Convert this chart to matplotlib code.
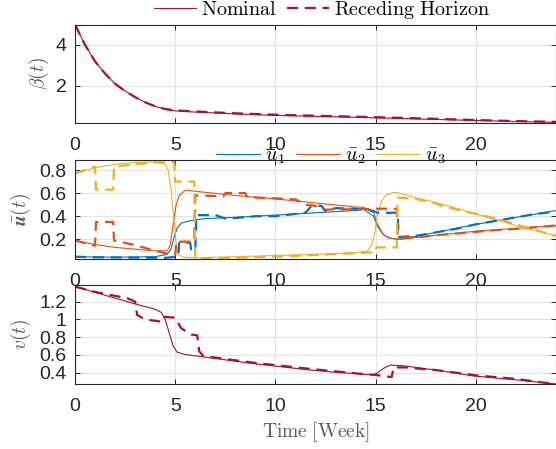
import matplotlib
matplotlib.use("Agg")
import matplotlib.pyplot as plt
from matplotlib.ticker import FormatStrFormatter

plt.rcParams['font.family'] = ['Liberation Sans', 'DejaVu Sans']
plt.rcParams['mathtext.fontset'] = 'cm'

# colours (MATLAB defaults)
red = '#A2142F'
c_u = ['#0072BD', '#D95319', '#EDB120']
axc = '#262626'
labc = '#595959'

# beta(t)
t_beta = [0, 0.5, 1, 1.5, 2, 2.5, 3, 3.5, 4, 4.5, 5, 6, 8, 10, 12, 15, 18, 20, 22, 24]
beta_nom = [5, 4.0, 3.2, 2.6, 2.1, 1.75, 1.45, 1.2, 1.0, 0.86, 0.78, 0.72, 0.63, 0.56, 0.51, 0.44, 0.36, 0.31, 0.26, 0.22]
beta_rh = [5, 4.0, 3.2, 2.6, 2.1, 1.75, 1.45, 1.2, 1.0, 0.87, 0.8, 0.75, 0.66, 0.59, 0.54, 0.47, 0.39, 0.33, 0.28, 0.24]

# nominal controls
t_u1 = [0, 2, 4, 4.6, 4.8, 4.95, 5.1, 5.3, 5.7, 6.5, 8, 10, 12, 14, 14.4, 14.9, 15.1, 15.4, 15.7, 16.2, 18, 20, 22, 24]
u1_nom = [0.05, 0.045, 0.05, 0.07, 0.12, 0.22, 0.3, 0.34, 0.36, 0.38, 0.39, 0.41, 0.43, 0.45, 0.46, 0.40, 0.31, 0.24, 0.21, 0.2, 0.26, 0.33, 0.39, 0.45]
t_u2 = [0, 1, 2, 3, 4, 4.6, 4.75, 4.9, 5.05, 5.2, 5.5, 8, 10, 12, 14, 14.4, 14.9, 15.1, 15.4, 15.7, 16.2, 18, 20, 22, 24]
u2_nom = [0.19, 0.155, 0.13, 0.115, 0.1, 0.1, 0.15, 0.33, 0.5, 0.58, 0.625, 0.58, 0.55, 0.515, 0.48, 0.477, 0.43, 0.33, 0.24, 0.21, 0.2, 0.235, 0.27, 0.295, 0.32]
t_u3 = [0, 1, 2, 3, 4, 4.5, 4.65, 4.8, 4.95, 5.05, 5.15, 5.4, 6, 8, 10, 12, 14, 14.6, 14.8, 14.95, 15.1, 15.3, 15.5, 15.9, 16.2, 17, 18, 20, 22, 24]
u3_nom = [0.77, 0.82, 0.85, 0.865, 0.87, 0.85, 0.8, 0.62, 0.35, 0.16, 0.07, 0.045, 0.04, 0.05, 0.06, 0.07, 0.085, 0.1, 0.15, 0.25, 0.42, 0.53, 0.58, 0.607, 0.6, 0.56, 0.52, 0.42, 0.32, 0.23]

# receding horizon controls
t_u1_rh = [0, 1, 4.5, 5.15, 5.2, 5.75, 5.8, 6.0, 6.05, 7, 7.5, 8, 9, 10, 11, 11.5, 11.8, 12.3, 12.5, 13, 14, 14.8, 15.1, 16.1, 16.15, 17, 18, 19, 20, 21, 22, 23, 24]
u1_rh = [0.05, 0.045, 0.04, 0.05, 0.17, 0.17, 0.1, 0.1, 0.41, 0.41, 0.38, 0.385, 0.4, 0.4, 0.42, 0.43, 0.49, 0.49, 0.445, 0.47, 0.465, 0.45, 0.43, 0.43, 0.22, 0.23, 0.26, 0.29, 0.33, 0.36, 0.39, 0.42, 0.44]
t_u2_rh = [0, 1.0, 1.05, 1.9, 1.95, 3, 4, 4.5, 5.0, 5.05, 5.95, 6.0, 7, 7.4, 7.5, 8.5, 8.6, 10, 11, 11.5, 12, 12.3, 13, 14, 15, 16.05, 16.1, 17, 18, 19, 20, 21, 22, 23, 24]
u2_rh = [0.19, 0.145, 0.35, 0.35, 0.19, 0.15, 0.1, 0.08, 0.06, 0.18, 0.18, 0.58, 0.575, 0.57, 0.6, 0.6, 0.565, 0.555, 0.545, 0.5, 0.49, 0.455, 0.46, 0.46, 0.465, 0.465, 0.22, 0.215, 0.235, 0.25, 0.265, 0.28, 0.29, 0.305, 0.32]
t_u3_rh = [0, 0.5, 1.0, 1.05, 1.9, 1.95, 3, 4, 4.95, 5.0, 5.95, 6.0, 8, 10, 12, 14, 15.0, 15.05, 16.05, 16.1, 17, 17.5, 18, 18.5, 20, 21, 22, 23, 24]
u3_rh = [0.77, 0.8, 0.83, 0.63, 0.63, 0.83, 0.85, 0.865, 0.87, 0.7, 0.7, 0.03, 0.04, 0.05, 0.065, 0.08, 0.09, 0.13, 0.13, 0.56, 0.55, 0.53, 0.51, 0.48, 0.42, 0.38, 0.33, 0.28, 0.23]

# v(t)
t_v = [0, 1, 2, 3, 4, 4.3, 4.5, 4.7, 4.9, 5.1, 5.5, 7, 9, 11.75, 13, 14.9, 15.1, 15.4, 15.75, 16.5, 18, 19.9, 22, 24]
v_nom = [1.37, 1.305, 1.24, 1.175, 1.115, 1.08, 1.0, 0.85, 0.7, 0.63, 0.605, 0.56, 0.5, 0.43, 0.405, 0.375, 0.4, 0.45, 0.487, 0.475, 0.43, 0.363, 0.32, 0.273]
t_v_rh = [0, 1, 2, 2.6, 3.0, 3.1, 3.5, 4.3, 4.4, 5.0, 5.3, 5.8, 6.1, 6.2, 6.4, 7, 9, 11, 13, 14.4, 15, 15.8, 15.9, 16.5, 17.2, 18, 20, 22, 23.5, 24]
v_rh = [1.37, 1.31, 1.265, 1.24, 1.2, 1.05, 1.0, 0.975, 1.03, 1.02, 0.9, 0.83, 0.82, 0.64, 0.59, 0.57, 0.51, 0.46, 0.415, 0.385, 0.375, 0.35, 0.46, 0.46, 0.445, 0.43, 0.37, 0.33, 0.285, 0.27]

xticks = [0, 5, 10, 15, 20]

fig = plt.figure(figsize=(5.56, 4.49), dpi=100)
left, width = 75 / 556, 481 / 556
ax1 = fig.add_axes([left, 0.7267, width, 0.2187])
ax2 = fig.add_axes([left, 0.4232, width, 0.2205])
ax3 = fig.add_axes([left, 0.1448, width, 0.2205])

dash = (5, 3)
lw_n, lw_d = 0.8, 1.6

ax1.plot(t_beta, beta_nom, color=red, lw=lw_n, label=r'$\mathrm{Nominal}$')
ax1.plot(t_beta, beta_rh, color=red, lw=lw_d, ls='--', dashes=dash, label=r'$\mathrm{Receding\ Horizon}$')
ax1.set_ylim(0.2, 5)
ax1.set_yticks([2, 4])

for tt, uu, c, name in zip([t_u1, t_u2, t_u3], [u1_nom, u2_nom, u3_nom], c_u, ['1', '2', '3']):
    ax2.plot(tt, uu, color=c, lw=lw_n, label=r'$\bar{u}_' + name + '$')
for tt, uu, c in zip([t_u1_rh, t_u2_rh, t_u3_rh], [u1_rh, u2_rh, u3_rh], c_u):
    ax2.plot(tt, uu, color=c, lw=lw_d, ls='--', dashes=dash)
ax2.set_ylim(0.03, 0.887)
ax2.set_yticks([0.2, 0.4, 0.6, 0.8])

ax3.plot(t_v, v_nom, color=red, lw=lw_n)
ax3.plot(t_v_rh, v_rh, color=red, lw=lw_d, ls='--', dashes=dash)
ax3.set_ylim(0.273, 1.388)
ax3.set_yticks([0.4, 0.6, 0.8, 1, 1.2])

for ax in (ax1, ax2, ax3):
    ax.set_xlim(0, 24)
    ax.set_xticks(xticks)
    ax.yaxis.set_major_formatter(FormatStrFormatter('%g'))
    ax.grid(True, color='#e3e3e3', lw=0.8)
    ax.set_axisbelow(True)
    ax.tick_params(direction='in', length=3.5, width=0.7, colors=axc, labelsize=14,
                   top=True, right=True)
    ax.tick_params(axis='x', pad=10)
    ax.tick_params(axis='y', pad=6)
    for s in ax.spines.values():
        s.set_color(axc)
        s.set_linewidth(0.8)

ax1.set_ylabel(r'$\beta(t)$', fontsize=14, color=labc, va='center')
ax1.yaxis.set_label_coords(-0.075, 0.5)
ax2.set_ylabel(r'$\bar{\boldsymbol{u}}(t)$', fontsize=14, color=labc, va='center')
ax2.yaxis.set_label_coords(-0.112, 0.5)
ax3.set_ylabel(r'$v(t)$', fontsize=14, color=labc, va='center')
ax3.yaxis.set_label_coords(-0.112, 0.5)
ax3.set_xlabel(r'$\mathrm{Time\ [Week]}$', fontsize=14, color=labc)

h1, l1 = ax1.get_legend_handles_labels()
fig.legend(h1, l1, loc='center', bbox_to_anchor=(322 / 556, 1 - 10 / 449), ncol=2,
           frameon=False, fontsize=14.5, handlelength=2.1, handletextpad=0.25,
           columnspacing=0.5, borderpad=0, borderaxespad=0)
h2, l2 = ax2.get_legend_handles_labels()
fig.legend(h2, l2, loc='center', bbox_to_anchor=(331 / 556, 1 - 156 / 449), ncol=3,
           frameon=False, fontsize=14.5, handlelength=2.2, handletextpad=0.25,
           columnspacing=0.5, borderpad=0, borderaxespad=0)

fig.savefig('out.png', dpi=100)
